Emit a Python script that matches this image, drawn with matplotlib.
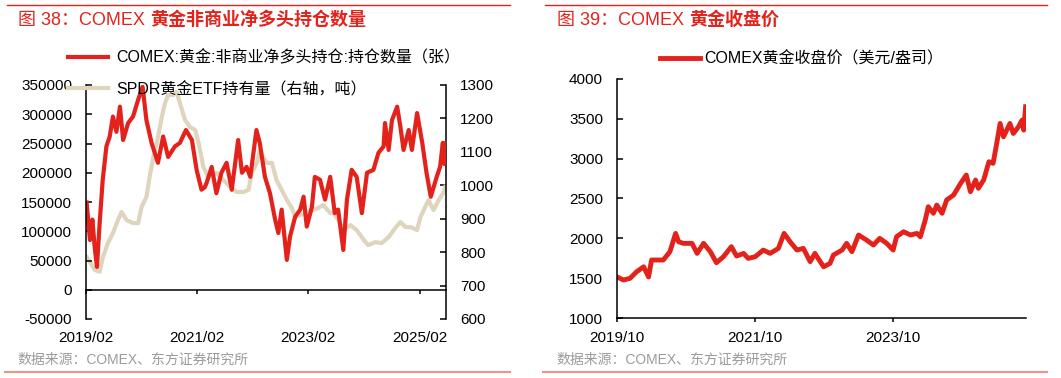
import pandas as pd
import matplotlib
matplotlib.use("Agg")
import matplotlib.pyplot as plt
import matplotlib.dates as mdates
from matplotlib.lines import Line2D

plt.rcParams['font.family'] = ['Liberation Sans', 'Noto Sans CJK SC']
plt.rcParams['axes.unicode_minus'] = False

# ---- data ----
# COMEX net long (contracts), left axis
net_dates = ['2019-02-05', '2019-02-27', '2019-03-15', '2019-03-30', '2019-04-14', '2019-05-02',
             '2019-05-22', '2019-06-15', '2019-07-07', '2019-07-28', '2019-08-20', '2019-09-12',
             '2019-10-03', '2019-11-05', '2019-12-07', '2020-01-10', '2020-02-08', '2020-03-04',
             '2020-04-07', '2020-05-19', '2020-06-22', '2020-07-25', '2020-09-07', '2020-10-10',
             '2020-11-19', '2020-12-28', '2021-01-28', '2021-03-01', '2021-03-22', '2021-04-04',
             '2021-05-07', '2021-06-07', '2021-07-10', '2021-08-13', '2021-09-16', '2021-10-28',
             '2021-11-22', '2021-12-22', '2022-01-16', '2022-02-25', '2022-03-19', '2022-04-22',
             '2022-05-25', '2022-06-28', '2022-07-19', '2022-08-10', '2022-09-13', '2022-10-04',
             '2022-11-07', '2022-12-10', '2023-01-01', '2023-01-22', '2023-02-25', '2023-03-16',
             '2023-04-19', '2023-05-22', '2023-06-25', '2023-07-25', '2023-08-16', '2023-09-19',
             '2023-10-13', '2023-11-13', '2023-12-16', '2024-01-19', '2024-02-22', '2024-04-04',
             '2024-05-07', '2024-06-10', '2024-06-19', '2024-07-13', '2024-08-04', '2024-09-07',
             '2024-09-28', '2024-10-19', '2024-11-22', '2024-12-13', '2025-01-16', '2025-02-19',
             '2025-03-19', '2025-04-16', '2025-05-25', '2025-06-16', '2025-07-04', '2025-07-13',
             '2025-07-19']
net_long = [149000, 85000, 120000, 73000, 39000, 115000,
            188000, 245000, 262000, 296000, 270000, 313000,
            256000, 285000, 296000, 325000, 347000, 290000,
            251000, 217000, 262000, 227000, 245000, 251000,
            273000, 256000, 205000, 171000, 175000, 183000,
            210000, 165000, 200000, 217000, 171000, 256000,
            200000, 210000, 193000, 273000, 251000, 193000,
            165000, 120000, 97000, 137000, 51000, 91000,
            125000, 137000, 159000, 108000, 142000, 193000,
            188000, 154000, 193000, 131000, 137000, 68000,
            154000, 205000, 193000, 131000, 200000, 205000,
            234000, 245000, 285000, 239000, 290000, 313000,
            279000, 239000, 273000, 239000, 302000, 251000,
            200000, 159000, 193000, 210000, 251000, 215000,
            250000]

# SPDR gold ETF holdings (tonnes), right axis
spdr_dates = ['2019-02-05', '2019-02-27', '2019-03-30', '2019-05-02', '2019-05-23', '2019-06-25',
              '2019-07-28', '2019-08-30', '2019-09-22', '2019-10-25', '2019-12-07', '2020-01-10',
              '2020-02-01', '2020-03-04', '2020-03-25', '2020-04-19', '2020-05-19', '2020-06-13',
              '2020-07-04', '2020-07-25', '2020-08-28', '2020-09-19', '2020-10-10', '2020-11-13',
              '2020-12-16', '2021-01-19', '2021-02-10', '2021-03-13', '2021-04-13', '2021-06-10',
              '2021-07-22', '2021-09-04', '2021-10-19', '2021-12-01', '2022-01-04', '2022-01-25',
              '2022-02-28', '2022-03-19', '2022-04-10', '2022-05-04', '2022-06-07', '2022-07-07',
              '2022-08-10', '2022-09-13', '2022-10-16', '2022-11-07', '2022-12-10', '2023-01-22',
              '2023-03-04', '2023-04-07', '2023-05-10', '2023-06-25', '2023-07-16', '2023-08-19',
              '2023-09-19', '2023-11-04', '2023-12-16', '2024-02-01', '2024-03-01', '2024-04-16',
              '2024-05-28', '2024-07-13', '2024-08-25', '2024-09-28', '2024-11-01', '2024-12-04',
              '2025-01-16', '2025-02-07', '2025-03-10', '2025-04-01', '2025-05-04', '2025-06-07',
              '2025-07-07', '2025-07-19']
spdr = [785, 771, 747, 741, 785, 827,
        857, 896, 920, 896, 887, 887,
        935, 965, 1025, 1085, 1144, 1204,
        1246, 1270, 1270, 1279, 1246, 1195,
        1174, 1165, 1127, 1055, 1025, 1037,
        1016, 995, 980, 980, 986, 1037,
        1067, 1106, 1085, 1067, 1067, 1016,
        986, 956, 932, 905, 911, 917,
        926, 932, 941, 917, 917, 896,
        866, 881, 866, 836, 821, 830,
        827, 845, 872, 890, 875, 875,
        866, 905, 935, 956, 926, 956,
        977, 995]

# COMEX gold close (USD/oz)
gold_dates = ['2019-10-02', '2019-11-04', '2019-12-09', '2020-01-13', '2020-02-19', '2020-03-16',
              '2020-04-01', '2020-04-28', '2020-06-02', '2020-07-07', '2020-08-06', '2020-08-22',
              '2020-09-16', '2020-11-01', '2020-11-28', '2021-01-01', '2021-02-06', '2021-03-10',
              '2021-04-16', '2021-05-28', '2021-06-25', '2021-08-01', '2021-08-25', '2021-10-01',
              '2021-11-13', '2021-12-19', '2022-02-01', '2022-03-03', '2022-04-04', '2022-05-10',
              '2022-06-13', '2022-07-19', '2022-08-13', '2022-09-28', '2022-11-01', '2022-11-19',
              '2023-01-04', '2023-01-28', '2023-02-25', '2023-04-01', '2023-05-13', '2023-06-19',
              '2023-07-22', '2023-08-28', '2023-10-01', '2023-10-19', '2023-11-25', '2024-01-01',
              '2024-02-04', '2024-02-22', '2024-03-19', '2024-04-04', '2024-05-01', '2024-05-19',
              '2024-06-16', '2024-07-10', '2024-08-16', '2024-09-22', '2024-10-22', '2024-11-13',
              '2024-12-10', '2024-12-25', '2025-01-22', '2025-02-19', '2025-03-13', '2025-04-01',
              '2025-04-19', '2025-05-07', '2025-06-10', '2025-06-28', '2025-07-25', '2025-08-13',
              '2025-08-22', '2025-09-01']
gold = [1515, 1477, 1498, 1581, 1643, 1515,
        1728, 1728, 1728, 1832, 2062, 1957,
        1937, 1937, 1811, 1937, 1832, 1694,
        1769, 1895, 1778, 1811, 1748, 1769,
        1853, 1811, 1874, 2062, 1957, 1853,
        1874, 1707, 1811, 1643, 1685, 1790,
        1853, 1937, 1832, 2042, 1979, 1916,
        2000, 1937, 1853, 2020, 2083, 2042,
        2062, 2020, 2230, 2397, 2314, 2418,
        2314, 2481, 2544, 2690, 2795, 2585,
        2732, 2628, 2732, 2962, 2941, 3191,
        3442, 3274, 3442, 3316, 3400, 3484,
        3358, 3652]

left_ticks = ['2019-02-01', '2021-02-01', '2023-02-01', '2025-02-01']
right_ticks = ['2019-10-01', '2021-10-01', '2023-10-01']

# titles: plain prefix + bold Chinese part
title_l = ('图 38：COMEX ', '黄金非商业净多头持仓数量')
title_r = ('图 39：COMEX ', '黄金收盘价')
label_net = 'COMEX:黄金:非商业净多头持仓:持仓数量（张）'
label_spdr = 'SPDR黄金ETF持有量（右轴，吨）'
label_gold = 'COMEX黄金收盘价（美元/盎司）'
source = '数据来源：COMEX、东方证券研究所'

RED = '#E3231B'
BEIGE = '#DFD5BE'
GRAY = '#9B9B9B'

W, H = 1061, 378
fig = plt.figure(figsize=(W / 100, H / 100), dpi=100)

# ---- left chart ----
ax1 = fig.add_axes([86 / W, 1 - 319 / H, 360 / W, 234 / H])
ax2 = ax1.twinx()
l1, = ax1.plot(pd.to_datetime(net_dates), net_long, color=RED, lw=3, label=label_net)
l2, = ax2.plot(pd.to_datetime(spdr_dates), spdr, color=BEIGE, lw=3, label=label_spdr)
ax1.set_zorder(ax2.get_zorder() + 1)
ax1.patch.set_visible(False)

ax1.set_xlim(pd.Timestamp('2019-02-01'), pd.Timestamp('2025-07-25'))
ax1.set_ylim(-50000, 350000)
ax1.set_yticks(range(-50000, 350001, 50000))
ax2.set_ylim(600, 1300)
ax2.set_yticks(range(600, 1301, 100))
ax1.set_xticks(pd.to_datetime(left_ticks))
ax1.xaxis.set_major_formatter(mdates.DateFormatter('%Y/%m'))

ax1.spines['bottom'].set_position(('data', 0))
for s in ['top', 'right']:
    ax1.spines[s].set_visible(False)
for s in ['top', 'left', 'bottom']:
    ax2.spines[s].set_visible(False)
for a in (ax1, ax2):
    for s in a.spines.values():
        s.set_linewidth(1.1)
ax1.tick_params(axis='y', direction='in', length=4, width=1.1, pad=10, labelsize=11)
ax1.tick_params(axis='x', direction='out', length=3, width=1.1, pad=27, labelsize=11)
ax2.tick_params(axis='y', direction='in', length=4, width=1.1, pad=10, labelsize=11)

fig.legend([l1, l2], [label_net, label_spdr], loc='upper left',
           bbox_to_anchor=(68 / W, 1 - 50 / H), frameon=False, fontsize=11.5,
           handlelength=2.5, handletextpad=0.5, labelspacing=1.0,
           borderpad=0, borderaxespad=0)

# ---- right chart ----
ax3 = fig.add_axes([617 / W, 1 - 318 / H, 409 / W, 239 / H])
l3, = ax3.plot(pd.to_datetime(gold_dates), gold, color=RED, lw=3.5, label=label_gold)
ax3.set_xlim(pd.Timestamp('2019-10-01'), pd.Timestamp('2025-09-03'))
ax3.set_ylim(1000, 4000)
ax3.set_yticks(range(1000, 4001, 500))
ax3.set_xticks(pd.to_datetime(right_ticks))
ax3.xaxis.set_major_formatter(mdates.DateFormatter('%Y/%m'))
for s in ['top', 'right']:
    ax3.spines[s].set_visible(False)
for s in ax3.spines.values():
    s.set_linewidth(1.1)
ax3.tick_params(axis='y', direction='in', length=4, width=1.1, pad=10, labelsize=11)
ax3.tick_params(axis='x', direction='out', length=3, width=1.1, pad=6, labelsize=11)

fig.legend([l3], [label_gold], loc='upper left',
           bbox_to_anchor=(660 / W, 1 - 51 / H), frameon=False, fontsize=11.5,
           handlelength=2.5, handletextpad=0.3, borderpad=0, borderaxespad=0)

# ---- titles, sources and rules ----
fig.canvas.draw()
renderer = fig.canvas.get_renderer()
for x, (plain, bold) in [(18, title_l), (557, title_r)]:
    t = fig.text(x / W, 1 - 20 / H, plain, color=RED, fontsize=13, va='center')
    bb = t.get_window_extent(renderer)
    fig.text(bb.x1 / W, 1 - 20 / H, bold, color=RED, fontsize=13, fontweight='bold', va='center')

fig.text(17 / W, 1 - 360 / H, source, color=GRAY, fontsize=10, va='center')
fig.text(556 / W, 1 - 360 / H, source, color=GRAY, fontsize=10, va='center')

for x0, x1 in [(7, 510), (545, 1047)]:
    fig.add_artist(Line2D([x0 / W, x1 / W], [1 - 5 / H] * 2, color=RED, lw=1))
    fig.add_artist(Line2D([(x0 - 2) / W, x1 / W], [1 - 372 / H] * 2, color='#F2918A', lw=1.5))

fig.savefig('out.png', dpi=100)
